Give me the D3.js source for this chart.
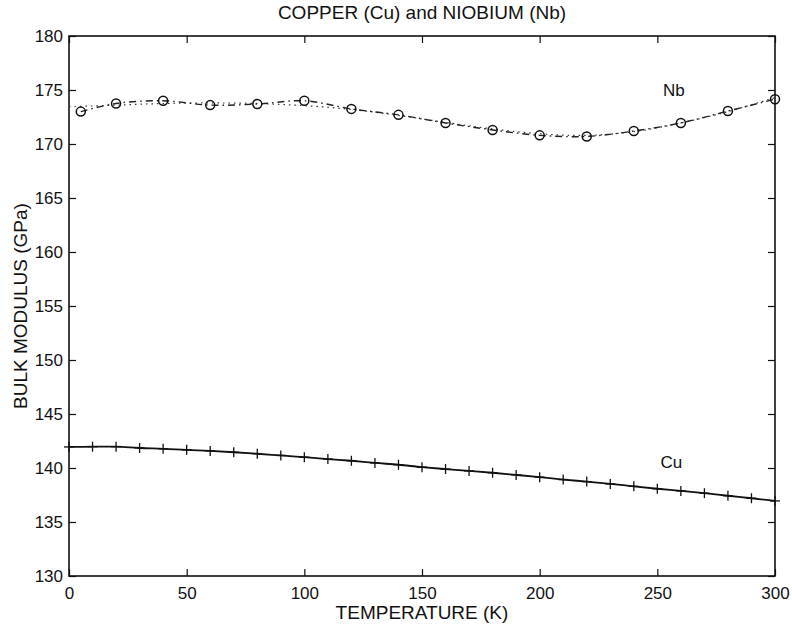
<!DOCTYPE html>
<html>
<head>
<meta charset="utf-8">
<script src="https://cdn.jsdelivr.net/npm/d3@7"></script>
<style>
  body { margin: 0; background: #fff; }
  svg text { font-family: "Liberation Sans", Arial, sans-serif; fill: #111; }
</style>
</head>
<body>
<svg id="chart" width="792" height="624"></svg>
<script>
// Nb measured points (circles)
var nbTemp = [5, 20, 40, 60, 80, 100, 120, 140, 160, 180, 200, 220, 240, 260, 280, 300];
var nbBulk = [173.0, 173.75, 174.0, 173.6, 173.7, 174.0, 173.25, 172.7, 171.95, 171.3, 170.8, 170.7, 171.2, 171.95, 173.05, 174.15];

// Nb smooth fit (dotted)
var nbFitTemp = [0, 20, 40, 60, 80, 100, 120, 140, 160, 180, 200, 220, 240, 260, 280, 300];
var nbFitBulk = [173.45, 173.6, 173.75, 173.8, 173.75, 173.55, 173.2, 172.65, 172.0, 171.4, 170.95, 170.8, 171.15, 171.95, 173.0, 174.3];

// Cu (plus markers)
var cuTemp = [0, 10, 20, 30, 40, 50, 60, 70, 80, 90, 100, 110, 120, 130, 140, 150,
  160, 170, 180, 190, 200, 210, 220, 230, 240, 250, 260, 270, 280, 290, 300];
var cuBulk = [141.95, 141.97, 141.97, 141.85, 141.78, 141.68, 141.58, 141.46, 141.32, 141.16, 141.0,
  140.83, 140.67, 140.47, 140.3, 140.08, 139.9, 139.73, 139.56, 139.36, 139.15, 138.93, 138.74,
  138.53, 138.3, 138.08, 137.88, 137.67, 137.43, 137.2, 136.95];

var xTicks = [0, 50, 100, 150, 200, 250, 300];
var yTicks = [130, 135, 140, 145, 150, 155, 160, 165, 170, 175, 180];

var margin = {top: 36, right: 17, bottom: 48, left: 69},
  width = 792 - margin.left - margin.right,
  height = 624 - margin.top - margin.bottom;

var svg = d3.select("#chart");
var g = svg.append("g").attr("transform", "translate(" + margin.left + "," + margin.top + ")");

var x = d3.scaleLinear().domain([0, 300]).range([0, width]);
var y = d3.scaleLinear().domain([130, 180]).range([height, 0]);

// axes with inward ticks
function styleAxis(sel) {
  sel.select(".domain").remove();
  sel.selectAll(".tick line").attr("stroke", "#111").attr("stroke-width", 1.2);
  sel.selectAll(".tick text").attr("font-size", 17).attr("fill", "#111");
}

g.append("g").attr("transform", "translate(0," + height + ")")
  .call(d3.axisBottom(x).tickValues(xTicks).tickSizeInner(-7).tickPadding(11))
  .call(styleAxis);
g.append("g")
  .call(d3.axisTop(x).tickValues(xTicks).tickSizeInner(-7).tickFormat(""))
  .call(styleAxis);
g.append("g")
  .call(d3.axisLeft(y).tickValues(yTicks).tickSizeInner(-7).tickPadding(6))
  .call(styleAxis);
g.append("g").attr("transform", "translate(" + width + ",0)")
  .call(d3.axisRight(y).tickValues(yTicks).tickSizeInner(-7).tickFormat(""))
  .call(styleAxis);

g.selectAll(".tick text").attr("font-family", "Liberation Sans, Arial, sans-serif");

g.append("rect")
  .attr("width", width).attr("height", height)
  .attr("fill", "none").attr("stroke", "#111").attr("stroke-width", 1.6);

var nbFit = nbFitTemp.map(function(t, i) { return {t: t, v: nbFitBulk[i]}; });
var nb = nbTemp.map(function(t, i) { return {t: t, v: nbBulk[i]}; });
var cu = cuTemp.map(function(t, i) { return {t: t, v: cuBulk[i]}; });

var smooth = d3.line()
  .x(function(d) { return x(d.t); })
  .y(function(d) { return y(d.v); })
  .curve(d3.curveCatmullRom);

// Nb fit dotted
g.append("path").datum(nbFit)
  .attr("d", smooth)
  .attr("fill", "none").attr("stroke", "#333").attr("stroke-width", 1.2)
  .attr("stroke-dasharray", "1.5,4");

g.append("path").datum(nb)
  .attr("d", smooth)
  .attr("fill", "none").attr("stroke", "#222").attr("stroke-width", 1.4)
  .attr("stroke-dasharray", "7,4,1.5,4");

g.selectAll("circle.nb").data(nb).enter()
  .append("circle")
  .attr("class", "nb")
  .attr("cx", function(d) { return x(d.t); })
  .attr("cy", function(d) { return y(d.v); })
  .attr("r", 4.5)
  .attr("fill", "none").attr("stroke", "#111").attr("stroke-width", 1.5);

// Cu solid with plus markers
g.append("path").datum(cu)
  .attr("d", smooth)
  .attr("fill", "none").attr("stroke", "#111").attr("stroke-width", 1.8);

var plus = g.selectAll("g.cu").data(cu).enter()
  .append("g")
  .attr("class", "cu")
  .attr("transform", function(d) { return "translate(" + x(d.t) + "," + y(d.v) + ")"; });
plus.append("line").attr("x1", -5).attr("x2", 5).attr("stroke", "#111").attr("stroke-width", 1.3);
plus.append("line").attr("y1", -5).attr("y2", 5).attr("stroke", "#111").attr("stroke-width", 1.3);

// labels
g.append("text").attr("x", x(257)).attr("y", y(174.4))
  .attr("text-anchor", "middle").attr("font-size", 17).text("Nb");
g.append("text").attr("x", x(256)).attr("y", y(140.0))
  .attr("text-anchor", "middle").attr("font-size", 17).text("Cu");

svg.append("text")
  .attr("x", margin.left + width / 2).attr("y", 19)
  .attr("text-anchor", "middle").attr("font-size", 19)
  .text("COPPER (Cu) and NIOBIUM (Nb)");

svg.append("text")
  .attr("x", margin.left + width / 2).attr("y", 619)
  .attr("text-anchor", "middle").attr("font-size", 19)
  .text("TEMPERATURE (K)");

svg.append("text")
  .attr("transform", "translate(27," + (margin.top + height / 2) + ") rotate(-90)")
  .attr("text-anchor", "middle").attr("font-size", 19)
  .text("BULK MODULUS (GPa)");
</script>
</body>
</html>
